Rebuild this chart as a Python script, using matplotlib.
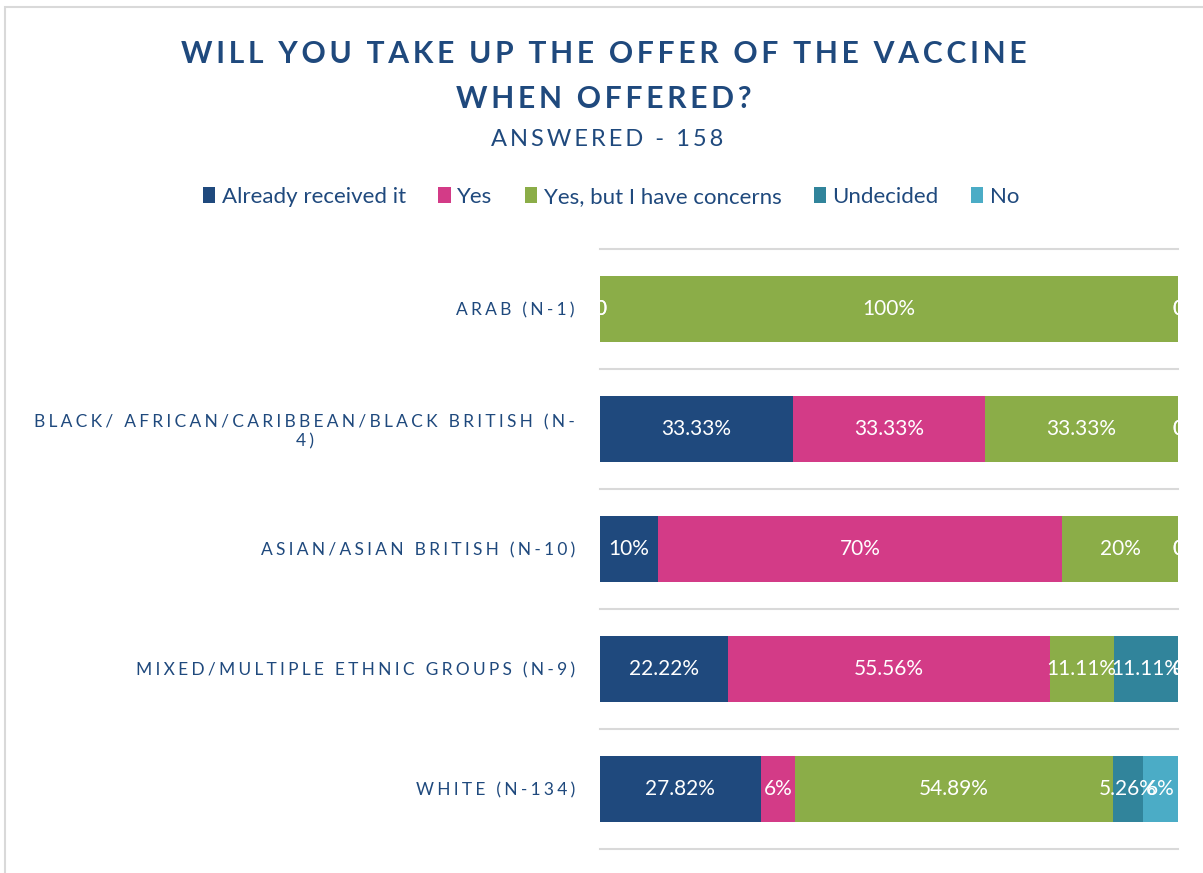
import numpy as np
import matplotlib
matplotlib.use("Agg")
import matplotlib.pyplot as plt
from matplotlib.patches import Rectangle

plt.rcParams["font.family"] = ["Lato", "DejaVu Sans"]

# data
groups = ["ARAB (N-1)",
          "BLACK/ AFRICAN/CARIBBEAN/BLACK BRITISH (N-\n4)",
          "ASIAN/ASIAN BRITISH (N-10)",
          "MIXED/MULTIPLE ETHNIC GROUPS (N-9)",
          "WHITE (N-134)"]
answers = ["Already received it", "Yes", "Yes, but I have concerns", "Undecided", "No"]
already = [0, 33.33, 10, 22.22, 27.82]
yes = [0, 33.33, 70, 55.56, 6]
yes_concerns = [100, 33.33, 20, 11.11, 54.89]
undecided = [0, 0, 0, 11.11, 5.26]
no = [0, 0, 0, 0, 6]
colors = ["#1F497D", "#D33B87", "#8BAD48", "#31849B", "#4BACC6"]

navy = "#1F497D"


def spaced(s, gap="\u2009"):
    # fake Excel-style character spacing
    lines = []
    for line in s.split("\n"):
        lines.append(gap.join(line))
    return "\n".join(lines)


fig = plt.figure(figsize=(12.03, 8.73), dpi=100)
fig.patches.append(Rectangle((0.004, -0.01), 1.2, 1.002, transform=fig.transFigure,
                             fill=False, edgecolor="#D9D9D9", linewidth=1.5))

ax = fig.add_axes([600 / 1203, 1 - 849 / 873, 578 / 1203, 600 / 873])

series = [already, yes, yes_concerns, undecided, no]
y = np.arange(len(groups))
left = np.zeros(len(groups))
for vals, name, col in zip(series, answers, colors):
    vals = np.array(vals, dtype=float)
    ax.barh(y, vals, left=left, height=0.55, color=col, label=name)
    for yi, (l, v) in enumerate(zip(left, vals)):
        txt = f"{v:g}%" if v > 0 else "0"
        ax.text(l + v / 2, yi, txt, ha="center", va="center", color="white",
                fontsize=15, clip_on=True)
    left += vals

ax.set_xlim(0, 100)
ax.set_ylim(len(groups) - 0.5, -0.5)
for b in np.arange(len(groups) + 1) - 0.5:
    ax.axhline(b, color="#D9D9D9", linewidth=1.5, zorder=0, clip_on=False)

ax.set_yticks(y)
ax.set_yticklabels([spaced(g, "\u2009\u200a") for g in groups], color=navy, fontsize=12.5,
                   multialignment="center")
ax.tick_params(axis="y", length=0, pad=18)
ax.set_xticks([])
for s in ax.spines.values():
    s.set_visible(False)

fig.text(0.502, 1 - 54 / 873, spaced("WILL YOU TAKE UP THE OFFER OF THE VACCINE"),
         ha="center", va="center", fontsize=21.6, fontweight="bold", color=navy)
fig.text(0.502, 1 - 99 / 873, spaced("WHEN OFFERED?"),
         ha="center", va="center", fontsize=21.6, fontweight="bold", color=navy)
fig.text(0.505, 1 - 140 / 873, spaced("ANSWERED - 158"),
         ha="center", va="center", fontsize=17, color=navy)

handles, labels = ax.get_legend_handles_labels()
fig.legend(handles, labels, loc="center", bbox_to_anchor=(0.508, 1 - 197 / 873), ncol=5,
           frameon=False, fontsize=16, handlelength=0.55, handleheight=0.7,
           handletextpad=0.3, columnspacing=1.45, labelcolor=navy)

fig.savefig("out.png", dpi=100)
